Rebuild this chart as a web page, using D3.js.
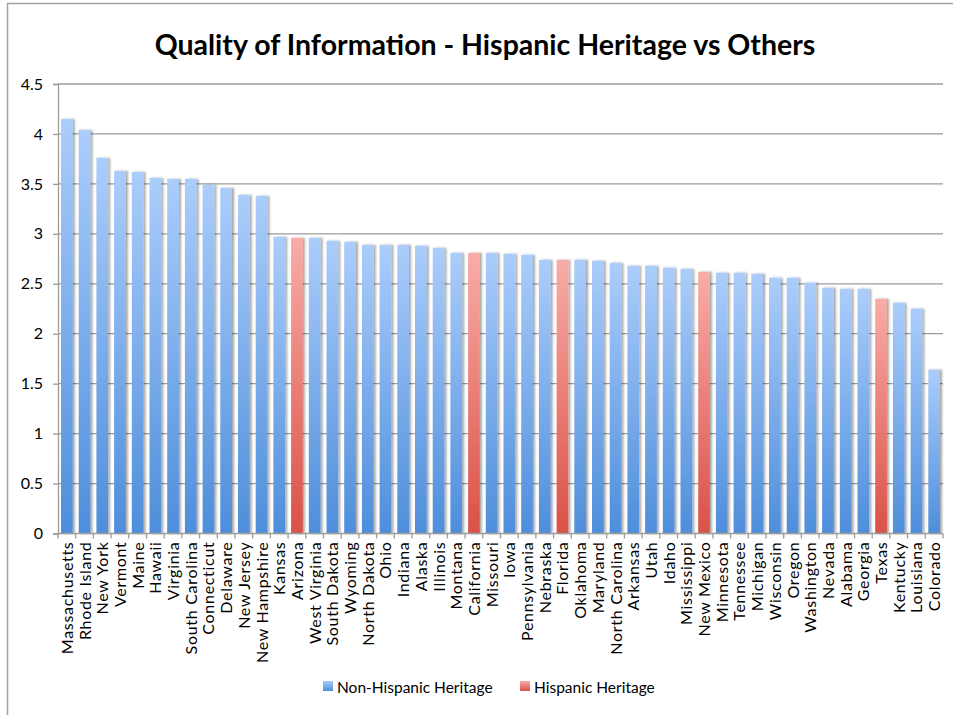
<!DOCTYPE html>
<html>
<head>
<meta charset="utf-8">
<script src="https://cdn.jsdelivr.net/npm/d3@7"></script>
<style>
  html, body { margin: 0; padding: 0; background: #fff; }
  svg { display: block; }
  text { font-family: Lato, "Open Sans", sans-serif; fill: #000; }
</style>
</head>
<body>
<svg id="chart" width="953" height="715"></svg>
<script>
// States, ordered by average rating
const states = [
  "Massachusetts", "Rhode Island", "New York", "Vermont", "Maine", "Hawaii",
  "Virginia", "South Carolina", "Connecticut", "Delaware", "New Jersey",
  "New Hampshire", "Kansas", "Arizona", "West Virginia", "South Dakota",
  "Wyoming", "North Dakota", "Ohio", "Indiana", "Alaska", "Illinois",
  "Montana", "California", "Missouri", "Iowa", "Pennsylvania", "Nebraska",
  "Florida", "Oklahoma", "Maryland", "North Carolina", "Arkansas", "Utah",
  "Idaho", "Mississippi", "New Mexico", "Minnesota", "Tennessee", "Michigan",
  "Wisconsin", "Oregon", "Washington", "Nevada", "Alabama", "Georgia",
  "Texas", "Kentucky", "Louisiana", "Colorado"
];

// Average "quality of information" score per state
const scores = [
  4.15, 4.04, 3.76, 3.63, 3.62, 3.56,
  3.55, 3.55, 3.49, 3.46, 3.39,
  3.38, 2.97, 2.96, 2.96, 2.93,
  2.92, 2.89, 2.89, 2.89, 2.88, 2.86,
  2.81, 2.81, 2.81, 2.80, 2.79, 2.74,
  2.74, 2.74, 2.73, 2.71, 2.68, 2.68,
  2.66, 2.65, 2.62, 2.61, 2.61, 2.60,
  2.56, 2.56, 2.51, 2.46, 2.45, 2.45,
  2.35, 2.31, 2.25, 1.64
];

// States counted in the Hispanic Heritage group
const hispanicStates = ["Arizona", "California", "Florida", "New Mexico", "Texas"];

const seriesNames = ["Non-Hispanic Heritage", "Hispanic Heritage"];
const yTicks = [0, 0.5, 1, 1.5, 2, 2.5, 3, 3.5, 4, 4.5];

const data = states.map((s, i) => ({
  state: s,
  value: scores[i],
  group: hispanicStates.includes(s) ? 1 : 0
}));

const svg = d3.select("#chart");
const plot = { left: 58, right: 943, top: 84, bottom: 533.5 };

// Outer chart frame
svg.append("rect")
  .attr("x", 7.5).attr("y", 3.5)
  .attr("width", 960).attr("height", 760)
  .attr("fill", "#fff")
  .attr("stroke", "#a3a3a3").attr("stroke-width", 1.5);

const defs = svg.append("defs");
const gradStops = [
  { id: "gradBlue", top: "#abcdfb", bottom: "#4e8edb" },
  { id: "gradRed", top: "#f9aca7", bottom: "#da5147" }
];
gradStops.forEach(g => {
  const lg = defs.append("linearGradient")
    .attr("id", g.id).attr("x1", 0).attr("y1", 0).attr("x2", 0).attr("y2", 1);
  lg.append("stop").attr("offset", "0%").attr("stop-color", g.top);
  lg.append("stop").attr("offset", "100%").attr("stop-color", g.bottom);
});
const shadow = defs.append("filter").attr("id", "barShadow")
  .attr("x", "-30%").attr("y", "-5%").attr("width", "180%").attr("height", "110%");
shadow.append("feDropShadow")
  .attr("dx", 2).attr("dy", 0).attr("stdDeviation", 1.3)
  .attr("flood-color", "#000").attr("flood-opacity", 0.35);

const x = d3.scaleBand()
  .domain(states)
  .range([plot.left, plot.right])
  .paddingInner(0.34)
  .paddingOuter(0.17);

const y = d3.scaleLinear()
  .domain([0, 4.5])
  .range([plot.bottom, plot.top]);

// Title
svg.append("text")
  .attr("x", 485).attr("y", 55)
  .attr("text-anchor", "middle")
  .style("font-size", "28.5px").style("font-weight", "bold")
  .text("Quality of Information - Hispanic Heritage vs Others");

// Horizontal gridlines
svg.append("g")
  .selectAll("line")
  .data(yTicks.filter(t => t > 0))
  .join("line")
  .attr("x1", plot.left).attr("x2", plot.right)
  .attr("y1", d => y(d)).attr("y2", d => y(d))
  .attr("stroke", "#9c9c9c").attr("stroke-width", 1.3);

// Y axis
const yAxis = svg.append("g")
  .attr("transform", `translate(${plot.left},0)`)
  .call(d3.axisLeft(y).tickValues(yTicks).tickSize(5).tickPadding(10)
    .tickFormat(d => d3.format("")(d)));
yAxis.select(".domain").attr("stroke", "#9c9c9c").attr("stroke-width", 1.3);
yAxis.selectAll(".tick line").attr("stroke", "#9c9c9c").attr("stroke-width", 1.3);
yAxis.selectAll(".tick text")
  .style("font-size", "16px").style("font-family", "Lato, sans-serif").attr("fill", "#000");

// Bars
svg.append("g")
  .selectAll("rect")
  .data(data)
  .join("rect")
  .attr("x", d => x(d.state))
  .attr("width", x.bandwidth())
  .attr("y", d => y(d.value))
  .attr("height", d => y(0) - y(d.value))
  .attr("fill", d => d.group ? "url(#gradRed)" : "url(#gradBlue)")
  .attr("filter", "url(#barShadow)");

// X axis with ticks between categories
const xAxisG = svg.append("g");
xAxisG.append("line")
  .attr("x1", plot.left).attr("x2", plot.right)
  .attr("y1", plot.bottom).attr("y2", plot.bottom)
  .attr("stroke", "#9c9c9c").attr("stroke-width", 1.3);
const boundaries = d3.range(states.length + 1).map(i => plot.left + (plot.right - plot.left) * i / states.length);
xAxisG.selectAll("line.tick")
  .data(boundaries)
  .join("line")
  .attr("class", "tick")
  .attr("x1", d => d).attr("x2", d => d)
  .attr("y1", plot.bottom).attr("y2", plot.bottom + 5)
  .attr("stroke", "#9c9c9c").attr("stroke-width", 1.3);

// Category labels, rotated
xAxisG.selectAll("text")
  .data(states)
  .join("text")
  .attr("transform", d => `translate(${x(d) + x.bandwidth() / 2 + 6},${plot.bottom + 8}) rotate(-90)`)
  .attr("text-anchor", "end")
  .style("font-size", "16px")
  .style("letter-spacing", "0.7px")
  .text(d => d);

// Legend
const legend = svg.append("g");
const legendItems = [
  { name: seriesNames[0], fill: "url(#gradBlue)", x: 323 },
  { name: seriesNames[1], fill: "url(#gradRed)", x: 520 }
];
legendItems.forEach(it => {
  legend.append("rect")
    .attr("x", it.x).attr("y", 681).attr("width", 10).attr("height", 10)
    .attr("fill", it.fill);
  legend.append("text")
    .attr("x", it.x + 14).attr("y", 692.5)
    .style("font-size", "15.5px")
    .text(it.name);
});
</script>
</body>
</html>
